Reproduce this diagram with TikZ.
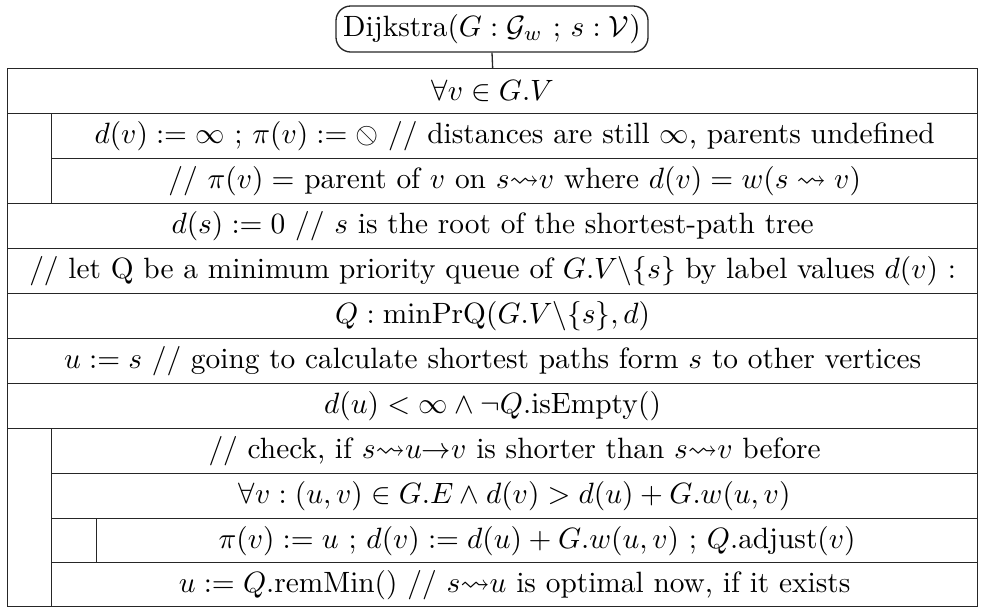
\documentclass[tikz,border=0pt]{standalone}
\usepackage{amssymb}
\usepackage{graphicx}
\newcommand\pxu{0.3405pt}
\newcommand\obsl{\mathord{\reflectbox{$\oslash$}}}
\tikzset{
  cell/.style={draw=black!85, line width=0.45pt, rectangle, inner sep=0pt,
    anchor=north west, align=center},
  wide/.style={cell, minimum width=970*\pxu},
  mid/.style={cell, minimum width=926*\pxu},
  narrow/.style={cell, minimum width=881*\pxu},
  titlebox/.style={draw=black!85, line width=0.45pt, rectangle, rounded corners=5pt,
    inner sep=0pt, minimum width=312*\pxu, minimum height=46*\pxu},
  link/.style={draw=black!85, line width=0.45pt}
}
\begin{document}
\begin{tikzpicture}[x=\pxu, y=-\pxu]
\useasboundingbox (0,0) rectangle (983,613);
\node[titlebox] (title) at (492,29) {Dijkstra($G : \mathcal{G}_w$ ; $s : \mathcal{V}$)};
\node[cell, minimum width=970*\pxu, minimum height=538*\pxu] (frame) at (7,68) {};
\node[cell, minimum width=926*\pxu, minimum height=89*\pxu] (forbody) at (51,473) {};
\node[wide, minimum height=45*\pxu] (r1) at (7,68) {$\forall v \in G.V$};
\node[mid, minimum height=45*\pxu] (r2) at (51,113) {$d(v) := \infty$ ; $\pi(v) := \obsl$ // distances are still $\infty$, parents undefined};
\node[mid, minimum height=45*\pxu] (r3) at (51,158) {// $\pi(v) =$ parent of $v$ on $s{\leadsto}v$ where $d(v) = w(s\leadsto v)$};
\node[wide, minimum height=45*\pxu] (r4) at (7,203) {$d(s) := 0$ // $s$ is the root of the shortest-path tree};
\node[wide, minimum height=45*\pxu] (r5) at (7,248) {// let Q be a minimum priority queue of $G.V\backslash\{s\}$ by label values $d(v)$ :};
\node[wide, minimum height=45*\pxu] (r6) at (7,293) {$Q : \mathrm{minPrQ}(G.V\backslash\{s\}, d)$};
\node[wide, minimum height=45*\pxu] (r7) at (7,338) {$u := s$ // going to calculate shortest paths form $s$ to other vertices};
\node[wide, minimum height=45*\pxu] (r8) at (7,383) {$d(u) < \infty \wedge \neg Q.\mathrm{isEmpty}()$};
\node[mid, minimum height=45*\pxu] (r9) at (51,428) {// check, if $s{\leadsto}u{\to}v$ is shorter than $s{\leadsto}v$ before};
\node[mid, minimum height=45*\pxu] (r10) at (51,473) {$\forall v : (u,v) \in G.E \wedge d(v) > d(u) + G.w(u,v)$};
\node[narrow, minimum height=44*\pxu] (r11) at (96,518) {$\pi(v) := u$ ; $d(v) := d(u) + G.w(u,v)$ ; $Q.\mathrm{adjust}(v)$};
\node[mid, minimum height=44*\pxu] (r12) at (51,562) {$u := Q.\mathrm{remMin}()$ // $s{\leadsto}u$ is optimal now, if it exists};
\draw[link] (title.south) -- (r1.north);
\end{tikzpicture}
\end{document}
